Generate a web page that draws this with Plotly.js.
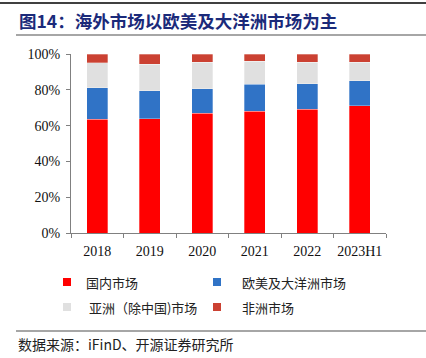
<!DOCTYPE html>
<html><head><meta charset="utf-8">
<script src="https://cdn.plot.ly/plotly-3.0.1.min.js"></script>
<style>html,body{margin:0;padding:0;background:#fff;}#chart{width:426px;height:358px;}</style>
</head><body><div id="chart"></div>
<script>
var categories = ['2018','2019','2020','2021','2022','2023H1'];
var domestic = [63.6, 63.9, 66.9, 68.0, 69.2, 71.0];
var euroOceania = [17.6, 15.5, 13.6, 15.1, 14.2, 14.1];
var asiaExChina = [13.9, 14.8, 14.9, 12.8, 12.1, 10.3];
var africa = [4.9, 5.8, 4.6, 4.1, 4.5, 4.6];
var seriesNames = ['国内市场', '欧美及大洋洲市场', ' 亚洲（除中国)市场', '非洲市场'];
var seriesColors = ['#ff0000', '#3073c6', '#e0e0e0', '#cb4132'];
var seriesValues = [domestic, euroOceania, asiaExChina, africa];

var L = 71, R = 386, T = 54, B = 233;
function px(x){ return (x - L) / (R - L); }
function py(y){ return (B - y) / (B - T); }

var cjk = '"Noto Sans CJK SC", "Noto Sans", sans-serif';
var serif = '"Liberation Serif", "DejaVu Serif", serif';

var traces = seriesValues.map(function(v, i){
  return {type:'bar', x:categories, y:v, name:seriesNames[i],
    marker:{color:seriesColors[i], line:{color:'rgba(255,255,255,0.6)', width:0.5}},
    width:0.4, showlegend:false, hoverinfo:'skip'};
});

var shapes = [
  {type:'line', xref:'paper', yref:'paper', x0:px(0), x1:px(426), y0:py(3), y1:py(3), line:{color:'#000', width:1.5}},
  {type:'line', xref:'paper', yref:'paper', x0:px(16), x1:px(426), y0:py(35), y1:py(35), line:{color:'#888', width:1.5}},
  {type:'line', xref:'paper', yref:'paper', x0:px(16), x1:px(426), y0:py(331), y1:py(331), line:{color:'#888', width:1.5}}
];
var annotations = [
  {xref:'paper', yref:'paper', x:px(17), y:py(21), xanchor:'left', yanchor:'middle', showarrow:false,
   text:'<b>图14：海外市场以欧美及大洋洲市场为主</b>', font:{family:cjk, size:17.5, color:'#1b2a7a'}},
  {xref:'paper', yref:'paper', x:px(16), y:py(344), xanchor:'left', yanchor:'middle', showarrow:false,
   text:'数据来源：iFinD、开源证券研究所', font:{family:cjk, size:14, color:'#222'}}
];
var legPos = [[67,282],[217,282],[67,307],[217,307]];
var legText = [84, 240, 84, 240];
seriesNames.forEach(function(n, i){
  var mx = legPos[i][0], my = legPos[i][1];
  shapes.push({type:'rect', xref:'paper', yref:'paper', x0:px(mx-4), x1:px(mx+4), y0:py(my+4), y1:py(my-4),
    fillcolor:seriesColors[i], line:{width:0}});
  annotations.push({xref:'paper', yref:'paper', x:px(legText[i]), y:py(my), xanchor:'left', yanchor:'middle',
    showarrow:false, text:n, font:{family:cjk, size:13, color:'#222'}});
});

var layout = {
  width:426, height:358,
  margin:{l:L, r:426-R, t:T, b:358-B},
  paper_bgcolor:'#fff', plot_bgcolor:'#fff',
  barmode:'stack', showlegend:false,
  xaxis:{type:'category', showline:true, linecolor:'#808080', linewidth:1,
    ticks:'outside', tickson:'boundaries', ticklen:4, tickcolor:'#808080', tickangle:0, ticklabelstandoff:5,
    tickfont:{family:serif, size:14, color:'#111'}, showgrid:false, zeroline:false, fixedrange:true},
  yaxis:{range:[0,100], dtick:20, ticksuffix:'%', showline:true, linecolor:'#808080', linewidth:1,
    ticks:'outside', ticklen:4, tickcolor:'#808080', showgrid:false, zeroline:false, ticklabelstandoff:3,
    tickfont:{family:serif, size:14, color:'#111'}, fixedrange:true},
  shapes:shapes, annotations:annotations
};
Plotly.newPlot('chart', traces, layout, {displayModeBar:false, staticPlot:true});
</script></body></html>
